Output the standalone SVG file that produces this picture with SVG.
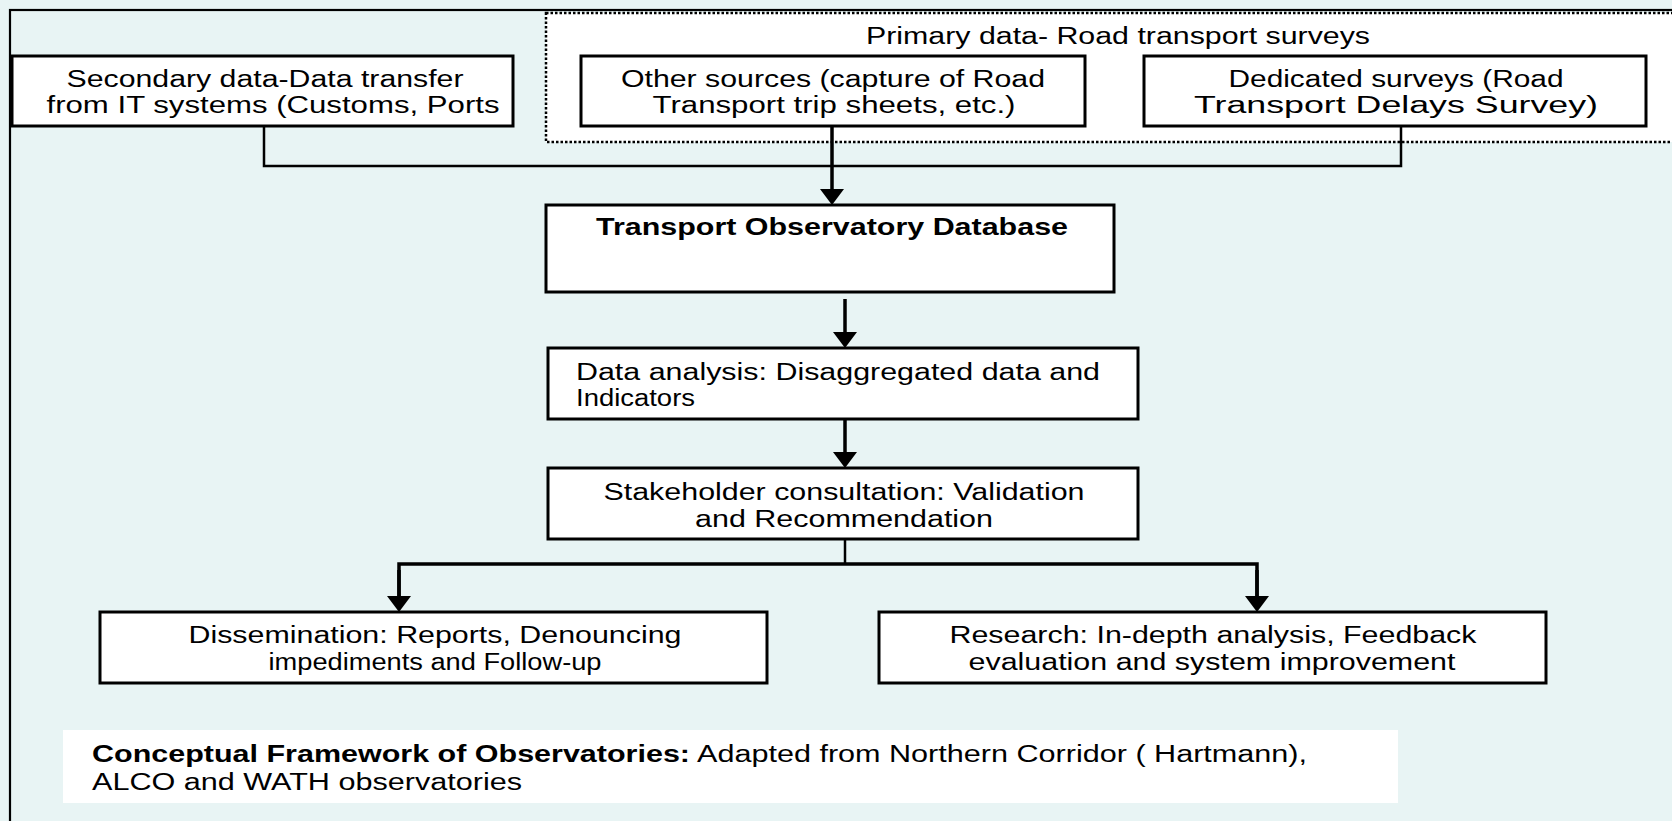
<svg xmlns="http://www.w3.org/2000/svg" width="1672" height="821" viewBox="0 0 1672 821">
<style>
.bg{fill:#E8F4F4}
.frame{fill:#E8F4F4;stroke:#000;stroke-width:2.2}
.box{fill:#fff;stroke:#000;stroke-width:3}
.dot{fill:#fff;stroke:#000;stroke-width:2.5;stroke-dasharray:2.5 2}
.t{font-family:"Liberation Sans",Arial,sans-serif;font-size:23px;fill:#000}
.c{text-anchor:middle}
.b{font-weight:bold}
.ln{fill:none;stroke:#000;stroke-width:2.5}
.ar{fill:none;stroke:#000;stroke-width:3.5}
</style>
<defs>
<marker id="ah" markerUnits="userSpaceOnUse" viewBox="0 0 16 24" markerWidth="16" markerHeight="24" refX="6" refY="12" orient="auto">
<path d="M0,0 L16,12 L0,24 Z" fill="#000"/>
</marker>
</defs>
<rect class="bg" x="0" y="0" width="1672" height="821"/>
<rect class="frame" x="10" y="10" width="1700" height="840"/>
<g id="primary-group">
<rect class="dot" x="546" y="13" width="1150" height="129"/>
<text class="t c" x="1118" y="44" textLength="504" lengthAdjust="spacingAndGlyphs">Primary data- Road transport surveys</text>
</g>
<g id="connectors">
<polyline class="ln" points="264,126 264,166 1401,166 1401,126"/>
<line class="ar" x1="832" y1="126" x2="832" y2="195" marker-end="url(#ah)"/>
<line class="ar" x1="845" y1="299" x2="845" y2="338" marker-end="url(#ah)"/>
<line class="ar" x1="845" y1="419" x2="845" y2="458" marker-end="url(#ah)"/>
<polyline class="ln" points="845,539 845,564"/>
<polyline class="ar" points="399,602 399,564 1257,564 1257,602"/>
<line class="ar" x1="399" y1="570" x2="399" y2="602" marker-end="url(#ah)"/>
<line class="ar" x1="1257" y1="570" x2="1257" y2="602" marker-end="url(#ah)"/>
</g>
<g id="secondary">
<rect class="box" x="12" y="56" width="501" height="70"/>
<text class="t c" x="265" y="87" textLength="397" lengthAdjust="spacingAndGlyphs">Secondary data-Data transfer</text>
<text class="t c" x="273" y="113" textLength="453" lengthAdjust="spacingAndGlyphs">from IT systems (Customs, Ports</text>
</g>
<g id="other-sources">
<rect class="box" x="581" y="56" width="504" height="70"/>
<text class="t c" x="833" y="87" textLength="424" lengthAdjust="spacingAndGlyphs">Other sources (capture of Road</text>
<text class="t c" x="834" y="113" textLength="363" lengthAdjust="spacingAndGlyphs">Transport trip sheets, etc.)</text>
</g>
<g id="dedicated-surveys">
<rect class="box" x="1144" y="56" width="502" height="70"/>
<text class="t c" x="1396" y="87" textLength="335" lengthAdjust="spacingAndGlyphs">Dedicated surveys (Road</text>
<text class="t c" x="1396" y="113" textLength="404" lengthAdjust="spacingAndGlyphs">Transport Delays Survey)</text>
</g>
<g id="database">
<rect class="box" x="546" y="205" width="568" height="87"/>
<text class="t c b" x="832" y="235" textLength="472" lengthAdjust="spacingAndGlyphs">Transport Observatory Database</text>
</g>
<g id="data-analysis">
<rect class="box" x="548" y="348" width="590" height="71"/>
<text class="t" x="576" y="380" textLength="524" lengthAdjust="spacingAndGlyphs">Data analysis: Disaggregated data and</text>
<text class="t" x="576" y="406" textLength="119" lengthAdjust="spacingAndGlyphs">Indicators</text>
</g>
<g id="stakeholder">
<rect class="box" x="548" y="468" width="590" height="71"/>
<text class="t c" x="844" y="500" textLength="481" lengthAdjust="spacingAndGlyphs">Stakeholder consultation: Validation</text>
<text class="t c" x="844" y="527" textLength="298" lengthAdjust="spacingAndGlyphs">and Recommendation</text>
</g>
<g id="dissemination">
<rect class="box" x="100" y="612" width="667" height="71"/>
<text class="t c" x="435" y="643" textLength="493" lengthAdjust="spacingAndGlyphs">Dissemination: Reports, Denouncing</text>
<text class="t c" x="435" y="670" textLength="333" lengthAdjust="spacingAndGlyphs">impediments and Follow-up</text>
</g>
<g id="research">
<rect class="box" x="879" y="612" width="667" height="71"/>
<text class="t c" x="1213" y="643" textLength="527" lengthAdjust="spacingAndGlyphs">Research: In-depth analysis, Feedback</text>
<text class="t c" x="1212" y="670" textLength="487" lengthAdjust="spacingAndGlyphs">evaluation and system improvement</text>
</g>
<g id="caption">
<rect x="63" y="730" width="1335" height="73" fill="#fff"/>
<text class="t b" x="92" y="762" textLength="598" lengthAdjust="spacingAndGlyphs">Conceptual Framework of Observatories:</text>
<text class="t" x="697" y="762" textLength="610" lengthAdjust="spacingAndGlyphs">Adapted from Northern Corridor ( Hartmann),</text>
<text class="t" x="92" y="790" textLength="430" lengthAdjust="spacingAndGlyphs">ALCO and WATH observatories</text>
</g>
</svg>
